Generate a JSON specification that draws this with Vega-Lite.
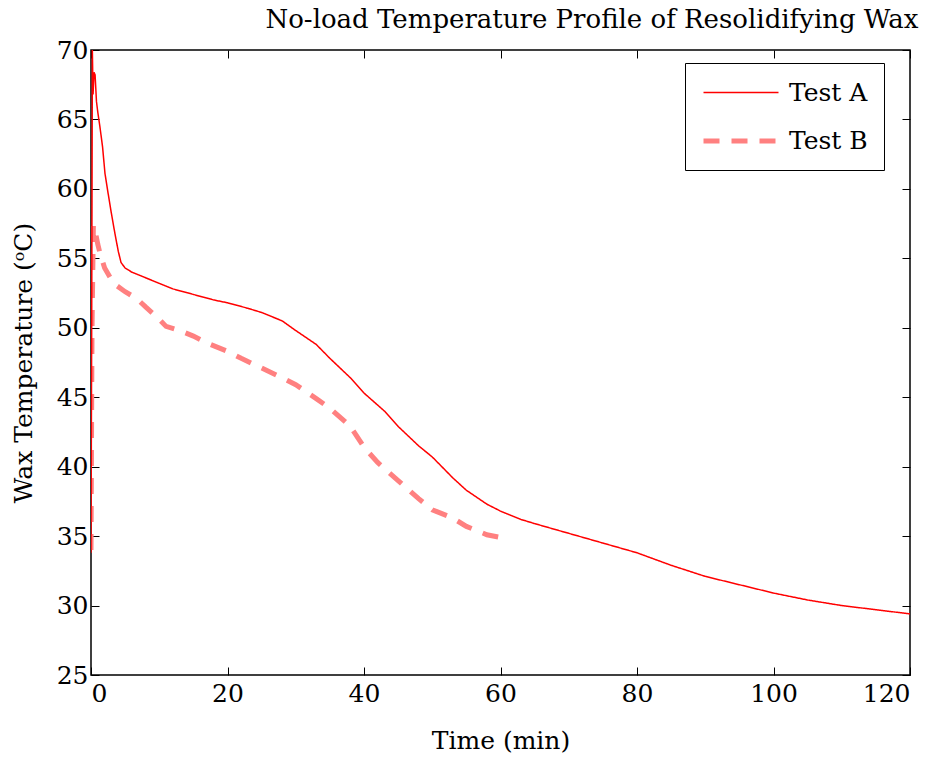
{
  "$schema": "https://vega.github.io/schema/vega-lite/v6.json",
  "width": 819,
  "height": 625,
  "autosize": {"type": "none"},
  "padding": {"left": 91, "top": 50, "right": 20, "bottom": 86},
  "background": "white",
  "config": {
    "view": {"stroke": "black", "strokeWidth": 1.5},
    "font": "DejaVu Serif",
    "axis": {"grid": false, "domain": false, "tickColor": "black", "tickSize": -8, "tickWidth": 1, "labelFont": "DejaVu Serif", "labelFontSize": 25, "labelColor": "black", "titleFont": "DejaVu Serif", "titleFontSize": 25, "titleFontWeight": "normal", "titleColor": "black"}
  },
  "title": {"text": "No-load Temperature Profile of Resolidifying Wax", "anchor": "end", "dx": 8, "offset": 5, "fontSize": 26, "fontWeight": "normal", "font": "DejaVu Serif", "color": "black"},
  "datasets": {
    "a": [
      {"t":0,"v":33.8,"s":"Test A"},{"t":0.1,"v":50,"s":"Test A"},{"t":0.2,"v":70,"s":"Test A"},{"t":0.3,"v":66.8,"s":"Test A"},{"t":0.45,"v":68.4,"s":"Test A"},{"t":0.6,"v":68.2,"s":"Test A"},{"t":0.8,"v":66.3,"s":"Test A"},{"t":1.0,"v":65.5,"s":"Test A"},{"t":1.3,"v":64.5,"s":"Test A"},{"t":1.7,"v":63.0,"s":"Test A"},{"t":2.05,"v":61.1,"s":"Test A"},{"t":2.5,"v":59.7,"s":"Test A"},{"t":3.0,"v":58.2,"s":"Test A"},{"t":3.5,"v":56.8,"s":"Test A"},{"t":4.0,"v":55.5,"s":"Test A"},{"t":4.4,"v":54.7,"s":"Test A"},{"t":5.0,"v":54.3,"s":"Test A"},{"t":6,"v":54.0,"s":"Test A"},{"t":8,"v":53.6,"s":"Test A"},{"t":10,"v":53.2,"s":"Test A"},{"t":12,"v":52.8,"s":"Test A"},{"t":15,"v":52.4,"s":"Test A"},{"t":18,"v":52.0,"s":"Test A"},{"t":20,"v":51.8,"s":"Test A"},{"t":23,"v":51.4,"s":"Test A"},{"t":25,"v":51.1,"s":"Test A"},{"t":28,"v":50.5,"s":"Test A"},{"t":30,"v":49.8,"s":"Test A"},{"t":33,"v":48.8,"s":"Test A"},{"t":35,"v":47.8,"s":"Test A"},{"t":38,"v":46.4,"s":"Test A"},{"t":40,"v":45.3,"s":"Test A"},{"t":43,"v":44.0,"s":"Test A"},{"t":45,"v":42.9,"s":"Test A"},{"t":48,"v":41.5,"s":"Test A"},{"t":50,"v":40.7,"s":"Test A"},{"t":53,"v":39.2,"s":"Test A"},{"t":55,"v":38.3,"s":"Test A"},{"t":58,"v":37.3,"s":"Test A"},{"t":60,"v":36.8,"s":"Test A"},{"t":63,"v":36.2,"s":"Test A"},{"t":65,"v":35.9,"s":"Test A"},{"t":70,"v":35.2,"s":"Test A"},{"t":75,"v":34.5,"s":"Test A"},{"t":80,"v":33.8,"s":"Test A"},{"t":85,"v":32.9,"s":"Test A"},{"t":90,"v":32.1,"s":"Test A"},{"t":95,"v":31.5,"s":"Test A"},{"t":100,"v":30.9,"s":"Test A"},{"t":105,"v":30.4,"s":"Test A"},{"t":110,"v":30.0,"s":"Test A"},{"t":115,"v":29.7,"s":"Test A"},{"t":120,"v":29.4,"s":"Test A"}
    ],
    "b": [
      {"t":0,"v":34,"s":"Test B"},{"t":0.15,"v":50,"s":"Test B"},{"t":0.35,"v":57.4,"s":"Test B"},{"t":0.6,"v":57.0,"s":"Test B"},{"t":1.0,"v":56.0,"s":"Test B"},{"t":1.3,"v":55.4,"s":"Test B"},{"t":2,"v":54.3,"s":"Test B"},{"t":3.3,"v":53.2,"s":"Test B"},{"t":5,"v":52.6,"s":"Test B"},{"t":6.7,"v":52.1,"s":"Test B"},{"t":8,"v":51.5,"s":"Test B"},{"t":9.6,"v":50.8,"s":"Test B"},{"t":11,"v":50.1,"s":"Test B"},{"t":13,"v":49.8,"s":"Test B"},{"t":15,"v":49.4,"s":"Test B"},{"t":17,"v":48.9,"s":"Test B"},{"t":20,"v":48.3,"s":"Test B"},{"t":22,"v":47.8,"s":"Test B"},{"t":25,"v":47.1,"s":"Test B"},{"t":28,"v":46.4,"s":"Test B"},{"t":30,"v":45.9,"s":"Test B"},{"t":33,"v":44.9,"s":"Test B"},{"t":35,"v":44.2,"s":"Test B"},{"t":38,"v":42.9,"s":"Test B"},{"t":40,"v":41.4,"s":"Test B"},{"t":42,"v":40.3,"s":"Test B"},{"t":45,"v":39.0,"s":"Test B"},{"t":48,"v":37.7,"s":"Test B"},{"t":50,"v":36.9,"s":"Test B"},{"t":53,"v":36.3,"s":"Test B"},{"t":55,"v":35.7,"s":"Test B"},{"t":58,"v":35.1,"s":"Test B"},{"t":60,"v":34.9,"s":"Test B"}
    ]
  },
  "resolve": {"axis": {"x": "independent", "y": "independent"}},
  "encoding": {
    "color": {"field": "s", "type": "nominal", "scale": {"domain": ["Test A", "Test B"], "range": ["#ff0000", "#ff8080"]},
      "legend": {"title": null, "orient": "none", "legendX": 594, "legendY": 13, "symbolType": "M-1,0H5", "symbolSize": 625, "symbolOpacity": 1, "symbolFillColor": "transparent", "labelFontSize": 25, "labelFont": "DejaVu Serif", "labelColor": "black", "strokeColor": "black", "fillColor": "white", "padding": 16, "rowPadding": 20, "labelOffset": 58}},
    "strokeDash": {"field": "s", "type": "nominal", "scale": {"domain": ["Test A", "Test B"], "range": [[1, 0], [16, 12]]}, "legend": {"title": null}},
    "strokeWidth": {"field": "s", "type": "nominal", "scale": {"domain": ["Test A", "Test B"], "range": [1.5, 5]}, "legend": {"title": null}}
  },
  "layer": [
    {
      "data": {"name": "b"},
      "mark": {"type": "line", "clip": true},
      "encoding": {
        "x": {"field": "t", "type": "quantitative", "scale": {"domain": [0, 120], "nice": false}, "axis": {"orient": "top", "labels": false, "title": null, "values": [0,20,40,60,80,100,120]}},
        "y": {"field": "v", "type": "quantitative", "scale": {"domain": [25, 70], "nice": false, "zero": false}, "axis": {"orient": "right", "labels": false, "title": null, "values": [25,30,35,40,45,50,55,60,65,70]}}
      }
    },
    {
      "data": {"name": "a"},
      "mark": {"type": "line", "clip": true},
      "encoding": {
        "x": {"field": "t", "type": "quantitative", "axis": {"orient": "bottom", "title": "Time (min)", "values": [0,20,40,60,80,100,120], "labelPadding": 14, "titlePadding": 22}},
        "y": {"field": "v", "type": "quantitative", "axis": {"orient": "left", "title": "Wax Temperature (ᵒC)", "values": [25,30,35,40,45,50,55,60,65,70], "labelPadding": 11, "titlePadding": 20}}
      }
    }
  ]
}
